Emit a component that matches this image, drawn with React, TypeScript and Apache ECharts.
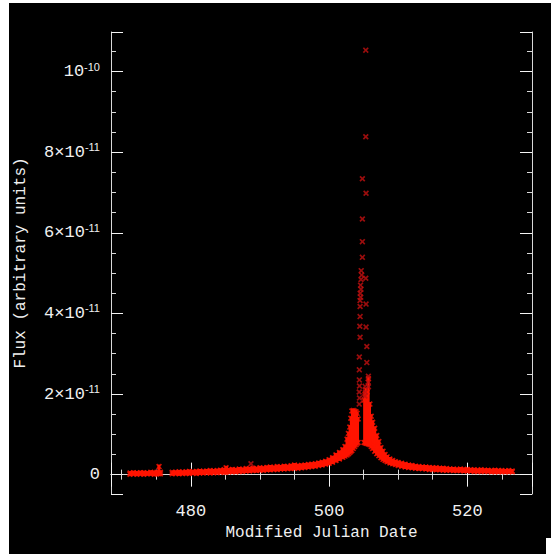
import React, { useEffect, useRef } from 'react';
import * as echarts from 'echarts';

// Dense light-curve band: MJD and marker-centre low/high flux (units of 1e-11)
const bandMjd = [
  471.2, 471.7, 472.2, 472.7, 473.2, 473.7, 474.2, 474.7, 475.1, 475.4, 475.6,
  477.3, 477.8, 478.3, 478.8, 479.3, 479.8, 480.3, 480.8, 481.3, 481.8, 482.3, 482.8,
  483.3, 483.8, 484.3, 484.8, 485.1, 485.5, 486.0, 486.5, 487.0, 487.5, 488.0, 488.5,
  489.0, 489.5, 490.0, 490.5, 491.0, 491.5, 492.0, 492.5, 493.0, 493.5, 494.0, 494.5,
  495.0, 495.5, 496.0, 496.5, 497.0, 497.5, 498.0, 498.5, 499.0, 499.5, 500.0, 500.5,
  501.0, 501.5, 502.0, 502.3, 502.6, 502.8, 503.0, 503.15, 503.3, 503.5, 503.7, 503.9,
  504.05, 504.2,
  505.05, 505.2, 505.35, 505.5, 505.7, 505.9, 506.1, 506.3, 506.6, 506.9, 507.2, 507.5,
  507.8, 508.1, 508.4, 508.8, 509.2, 509.6, 510.0, 510.5, 511.0, 511.5, 512.0, 512.5,
  513.0, 513.5, 514.0, 514.5, 515.0, 515.5, 516.0, 516.5, 517.0, 517.5, 518.0, 518.5,
  519.0, 519.5, 520.0, 520.5, 521.0, 521.5, 522.0, 522.5, 523.0, 523.5, 524.0, 524.5,
  525.0, 525.5, 526.0, 526.5,
];
const bandLo = [
  0.01, 0.02, 0.01, 0.02, 0.01, 0.02, 0.02, 0.01, 0.02, 0.02, 0.02,
  0.02, 0.03, 0.02, 0.03, 0.03, 0.03, 0.04, 0.03, 0.04, 0.04, 0.05, 0.04,
  0.05, 0.05, 0.06, 0.06, 0.06, 0.07, 0.07, 0.07, 0.08, 0.08, 0.09, 0.09,
  0.10, 0.10, 0.11, 0.11, 0.12, 0.12, 0.13, 0.13, 0.14, 0.14, 0.15, 0.15,
  0.16, 0.16, 0.17, 0.18, 0.19, 0.20, 0.21, 0.23, 0.24, 0.26, 0.28, 0.31,
  0.35, 0.39, 0.43, 0.46, 0.49, 0.52, 0.55, 0.58, 0.60, 0.65, 0.70, 0.74,
  0.78, 0.80,
  0.80, 0.79, 0.78, 0.77, 0.76, 0.74, 0.70, 0.65, 0.58, 0.52, 0.47, 0.42,
  0.38, 0.35, 0.32, 0.29, 0.27, 0.25, 0.23, 0.21, 0.19, 0.18, 0.17, 0.16,
  0.15, 0.15, 0.14, 0.13, 0.13, 0.12, 0.12, 0.11, 0.11, 0.11, 0.10, 0.10,
  0.10, 0.09, 0.09, 0.09, 0.08, 0.08, 0.08, 0.08, 0.08, 0.07, 0.07, 0.07,
  0.07, 0.07, 0.07, 0.07,
];
const bandHi = [
  0.04, 0.05, 0.04, 0.05, 0.05, 0.04, 0.06, 0.05, 0.06, 0.20, 0.06,
  0.06, 0.06, 0.07, 0.06, 0.07, 0.08, 0.07, 0.08, 0.09, 0.08, 0.09, 0.10,
  0.09, 0.10, 0.11, 0.12, 0.17, 0.12, 0.13, 0.12, 0.14, 0.13, 0.15, 0.14,
  0.16, 0.15, 0.17, 0.16, 0.18, 0.19, 0.18, 0.20, 0.19, 0.21, 0.20, 0.22,
  0.24, 0.22, 0.23, 0.24, 0.25, 0.26, 0.27, 0.29, 0.31, 0.33, 0.37, 0.42,
  0.49, 0.55, 0.62, 0.70, 0.88, 1.02, 1.18, 1.40, 1.58, 1.59, 1.57, 1.56,
  1.52, 1.38,
  1.85, 2.00, 2.10, 2.05, 2.38, 1.75, 1.45, 1.30, 1.15, 0.97, 0.82, 0.67,
  0.58, 0.50, 0.44, 0.39, 0.35, 0.32, 0.30, 0.28, 0.26, 0.24, 0.23, 0.21,
  0.20, 0.19, 0.19, 0.18, 0.17, 0.17, 0.16, 0.16, 0.15, 0.14, 0.14, 0.13,
  0.14, 0.13, 0.13, 0.12, 0.12, 0.11, 0.12, 0.11, 0.11, 0.10, 0.11, 0.10,
  0.10, 0.09, 0.10, 0.09,
];

// Sparse individual measurements (peak and outliers)
const peakMjd = [
  505.31, 505.31, 504.82, 505.35, 504.82, 504.82, 504.82, 504.65, 504.72, 504.62,
  505.31, 504.55, 504.62, 504.50, 504.58, 504.48, 505.35, 504.49, 504.49, 504.45,
  505.35, 504.49, 505.46, 504.38, 505.46, 504.38, 504.38, 504.40, 504.36, 504.40,
  504.36, 505.69, 505.66, 505.70, 505.21, 505.25, 505.18, 488.70,
];
const peakFlux = [
  10.53, 8.38, 7.34, 6.98, 6.34, 5.78, 5.39, 5.06, 4.95, 4.84,
  4.87, 4.70, 4.60, 4.50, 4.40, 4.32, 4.23, 4.17, 3.92, 3.68,
  3.66, 3.41, 3.18, 2.92, 2.78, 2.60, 2.35, 2.20, 2.05, 1.90,
  1.75, 2.44, 2.30, 2.18, 2.19, 2.05, 1.95, 0.27,
];

const xTickValues = [480, 500, 520];
const yTickValues = [0, 2, 4, 6, 8, 10];
const yTickMain = ['0', '2×10', '4×10', '6×10', '8×10', '10'];
const yTickExp = ['', '-11', '-11', '-11', '-11', '-10'];

const BAND = '#ff1400';
const POINT = '#c01010';
const LINE = '#d8d8d8';
const TEXT = '#f0f0f0';
const MONO = 'Liberation Mono';
const CROSS = 'path://M0,2L2,0L5,3L8,0L10,2L7,5L10,8L8,10L5,7L2,10L0,8L3,5Z';

export default function App() {
  const ref = useRef<HTMLDivElement>(null);

  useEffect(() => {
    if (!ref.current) return;
    const chart = echarts.init(ref.current, undefined, { renderer: 'svg' });

    const hw = (d: number) => (d > 0.6 ? 0.05 : d / 2);
    const cols = bandMjd.map((m, i) => {
      const prev = i > 0 ? bandMjd[i - 1] : -Infinity;
      const next = i < bandMjd.length - 1 ? bandMjd[i + 1] : Infinity;
      return [m, bandLo[i], bandHi[i], m - hw(m - prev), m + hw(next - m)];
    });
    const edges: number[][] = [];
    bandMjd.forEach((m, i) => {
      edges.push([m, bandLo[i]]);
      edges.push([m, bandHi[i]]);
    });
    const peaks = peakMjd.map((m, i) => [m, peakFlux[i]]);

    const axisCommon = {
      type: 'value' as const,
      axisLine: { show: true, lineStyle: { color: LINE, width: 1 } },
      axisTick: { show: true, inside: true, length: 12, lineStyle: { color: '#f4f4f4', width: 1 } },
      minorTick: { show: true, splitNumber: 4, length: 5, lineStyle: { color: LINE, width: 1 } },
      splitLine: { show: false },
      minorSplitLine: { show: false },
    };
    const xBase = { ...axisCommon, min: 468.45, max: 529.36, splitNumber: 3, minInterval: 20, maxInterval: 20, gridIndex: 0 };
    const yBase = { ...axisCommon, min: -0.48, max: 10.98, splitNumber: 6, minInterval: 2, maxInterval: 2, gridIndex: 0 };

    chart.setOption({
      animation: false,
      backgroundColor: 'transparent',
      grid: { left: 111, top: 32, right: 19, bottom: 60, containLabel: false },
      xAxis: [
        {
          ...xBase,
          position: 'bottom',
          axisLabel: {
            show: true,
            color: TEXT,
            fontFamily: MONO,
            fontSize: 17,
            margin: 9,
            formatter: (v: number) => (xTickValues.includes(Math.round(v * 1000) / 1000) ? String(v) : ''),
          },
          name: 'Modified Julian Date',
          nameLocation: 'middle',
          nameGap: 31,
          nameTextStyle: { color: TEXT, fontFamily: MONO, fontSize: 16 },
        },
        { ...xBase, position: 'top', axisLabel: { show: false } },
      ],
      yAxis: [
        {
          ...yBase,
          position: 'left',
          axisLabel: {
            show: true,
            margin: 11,
            formatter: (v: number) => {
              const idx = yTickValues.findIndex((t) => Math.abs(t - v) < 1e-6);
              if (idx < 0) return '';
              return yTickExp[idx] ? `{n|${yTickMain[idx]}}{s|${yTickExp[idx]}}` : `{n|${yTickMain[idx]}}`;
            },
            rich: {
              n: { color: TEXT, fontFamily: MONO, fontSize: 17 },
              s: { color: TEXT, fontFamily: 'Liberation Sans', fontSize: 11, padding: [0, 0, 10, 0] },
            },
          },
          name: 'Flux (arbitrary units)',
          nameLocation: 'middle',
          nameGap: 82,
          nameTextStyle: { color: TEXT, fontFamily: MONO, fontSize: 16 },
        },
        { ...yBase, position: 'right', axisLabel: { show: false } },
      ],
      series: [
        {
          type: 'custom',
          xAxisIndex: 0,
          yAxisIndex: 0,
          silent: true,
          clip: true,
          data: cols,
          encode: { x: [0, 3, 4], y: [1, 2] },
          renderItem: (params: any, api: any) => {
            const a = api.coord([api.value(3), api.value(2)]);
            const b = api.coord([api.value(4), api.value(1)]);
            return {
              type: 'rect',
              shape: { x: a[0] - 0.5, y: a[1] - 2, width: Math.max(b[0] - a[0], 1) + 1, height: b[1] - a[1] + 4 },
              style: { fill: BAND },
            };
          },
        },
        {
          type: 'scatter',
          xAxisIndex: 0,
          yAxisIndex: 0,
          silent: true,
          symbol: CROSS,
          symbolSize: 6,
          itemStyle: { color: BAND },
          data: edges,
        },
        {
          type: 'scatter',
          xAxisIndex: 0,
          yAxisIndex: 0,
          silent: true,
          symbol: CROSS,
          symbolSize: 6,
          itemStyle: { color: POINT },
          data: peaks,
        },
      ],
    });

    return () => chart.dispose();
  }, []);

  return (
    <div style={{ position: 'absolute', left: 0, top: 0, width: 551, height: 554, background: '#ffffff', overflow: 'hidden' }}>
      <div style={{ position: 'absolute', left: 9, top: 3, width: 542, height: 551, background: '#000000' }} />
      <div style={{ position: 'absolute', left: 546, top: 538, width: 5, height: 16, background: '#ffffff' }} />
      <div ref={ref} style={{ position: 'absolute', left: 0, top: 0, width: 551, height: 554 }} />
    </div>
  );
}
